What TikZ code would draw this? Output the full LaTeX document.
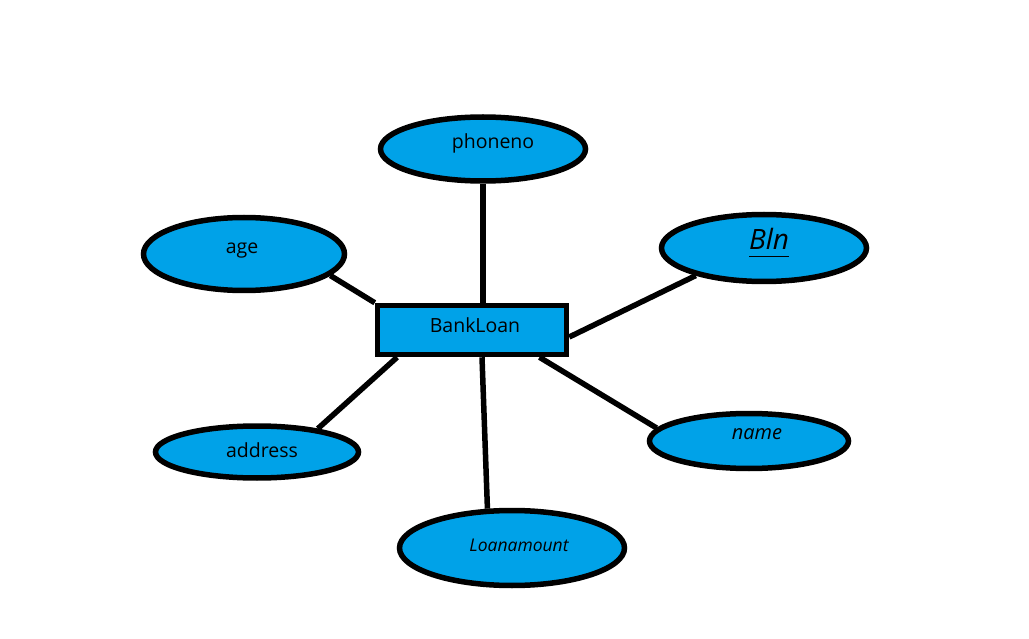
\documentclass[tikz,border=0pt]{standalone}
\usepackage{fontspec}
\setmainfont{Open Sans}
\usetikzlibrary{shapes.geometric}
\definecolor{attrblue}{RGB}{0,162,232}
\newcommand{\shiftlabel}[3]{\hspace*{#1}\raisebox{#2}{#3}}
\newcommand{\lowul}[1]{\setbox0\hbox{#1}\rlap{\raisebox{-7pt}{\rule{\wd0}{1pt}}}\box0}
\begin{document}
\begin{tikzpicture}[x=1pt,y=-1pt,
  attr/.style={ellipse,draw=black,fill=attrblue,line width=5.5pt,inner sep=0pt,text height=10pt,text depth=0pt,font=\fontsize{19.5}{22}\selectfont},
  entity/.style={rectangle,draw=black,fill=attrblue,line width=5.5pt,inner sep=0pt,text height=10pt,text depth=0pt,font=\fontsize{19.5}{22}\selectfont},
  conn/.style={line width=5.5pt,draw=black}]
\useasboundingbox (0,0) rectangle (1029,639);
\node[entity,minimum width=189pt,minimum height=49pt] (bank) at (472,330) {\shiftlabel{6pt}{2pt}{BankLoan}};
\node[attr,minimum width=205pt,minimum height=64pt] (phone) at (483,149) {\shiftlabel{20pt}{5pt}{phoneno}};
\node[attr,minimum width=201pt,minimum height=73pt] (age) at (244,254) {\shiftlabel{-4pt}{5pt}{age}};
\node[attr,minimum width=205pt,minimum height=67pt] (bln) at (764,248) {\shiftlabel{10pt}{3pt}{\fontsize{28}{30}\selectfont\itshape\lowul{Bln}}};
\node[attr,minimum width=203pt,minimum height=52pt] (addr) at (257,452) {\shiftlabel{10pt}{0pt}{address}};
\node[attr,minimum width=199pt,minimum height=55pt] (name) at (749,441) {\shiftlabel{16pt}{6pt}{\fontsize{20}{22}\selectfont\itshape name}};
\node[attr,minimum width=225pt,minimum height=75pt] (loan) at (512,548) {\shiftlabel{14pt}{2pt}{\fontsize{17.5}{20}\selectfont\itshape Loanamount}};
\draw[conn] (phone.south) -- (phone.south |- bank.north);
\draw[conn] (age.-14) -- (bank.north west);
\draw[conn] ([yshift=-7pt]bank.east) -- (bln.202);
\draw[conn] (bank.200) -- (addr.21.5);
\draw[conn] (bank.-22) -- (name.172);
\draw[conn] ([xshift=10pt]bank.south) -- (loan.122);
\end{tikzpicture}
\end{document}
